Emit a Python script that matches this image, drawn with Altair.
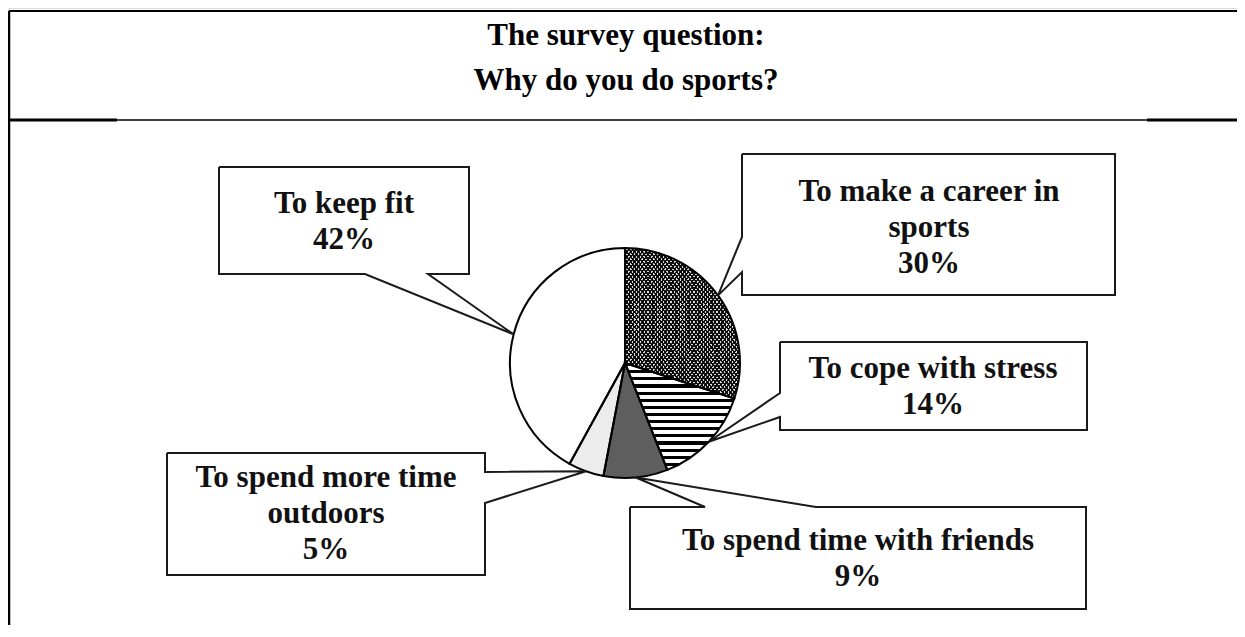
import math
import altair as alt
import pandas as pd

# ---------------- data ----------------
categories = ["To make a career in sports", "To cope with stress",
              "To spend time with friends", "To spend more time outdoors", "To keep fit"]
values = [30, 14, 9, 5, 42]
label_lines = [["To make a career in", "sports"], ["To cope with stress"],
               ["To spend time with friends"], ["To spend more time", "outdoors"], ["To keep fit"]]
title_lines = ["The survey question:", "Why do you do sports?"]

# ---------------- layout (reference pixel coordinates) ----------------
W, H = 1229, 617
OX, OY = 8, 8
CX, CY, R = 625, 363, 115
FONT = "Liberation Serif"
FS = 31
LINE_H = 36

callout_layout = {
    "To make a career in sports": dict(box=(742, 154, 1115, 295), side="left", base=(237, 272), tx=929, ty=201),
    "To cope with stress": dict(box=(780, 342, 1087, 430), side="left", base=(393, 417), tx=933, ty=378),
    "To spend time with friends": dict(box=(630, 507, 1086, 609), side="top", base=(705, 816), tx=858, ty=550),
    "To spend more time outdoors": dict(box=(167, 453, 485, 575), side="right", base=(472, 503), tx=326, ty=487),
    "To keep fit": dict(box=(219, 167, 469, 274), side="bottom", base=(365, 428), tx=344, ty=213),
}
fills = ["#d8d8d8", "#ffffff", "#5e5e5e", "#ececec", "#ffffff"]

# ---------------- derived tables ----------------
total = sum(values)
starts, ends, acc = [], [], 0
for v in values:
    starts.append(acc)
    acc += v
    ends.append(acc)
pie = pd.DataFrame({"category": categories, "value": values, "start": starts, "end": ends})

shape_rows = []
text_rows = []
for k, cat in enumerate(categories):
    lay = callout_layout[cat]
    mid = (starts[k] + ends[k]) / 2 / total * 2 * math.pi
    tip = (CX + R * math.sin(mid), CY - R * math.cos(mid))
    x0, y0, x1, y1 = lay["box"]
    a, b = lay["base"]
    side = lay["side"]
    if side == "left":
        pts = [(x0, y0), (x1, y0), (x1, y1), (x0, y1), (x0, b), tip, (x0, a), (x0, y0)]
    elif side == "right":
        pts = [(x0, y0), (x1, y0), (x1, a), tip, (x1, b), (x1, y1), (x0, y1), (x0, y0)]
    elif side == "top":
        pts = [(x0, y0), (a, y0), tip, (b, y0), (x1, y0), (x1, y1), (x0, y1), (x0, y0)]
    else:
        pts = [(x0, y0), (x1, y0), (x1, y1), (b, y1), tip, (a, y1), (x0, y1), (x0, y0)]
    for i, (px, py) in enumerate(pts):
        shape_rows.append({"shape": cat, "i": i, "x": px, "y": py})
    lines = label_lines[k] + [f"{values[k]}%"]
    for j, t in enumerate(lines):
        text_rows.append({"text": t, "x": lay["tx"], "y": lay["ty"] + j * LINE_H})

shapes = pd.DataFrame(shape_rows)
texts = pd.DataFrame(text_rows)
titles = pd.DataFrame({"text": title_lines, "x": [626, 626], "y": [45, 90]})
frame = pd.DataFrame({
    "x": [9, 9, 9, 117, 1147],
    "x2": [1245, 9, 117, 1147, 1245],
    "y": [11, 11, 120, 120, 120],
    "y2": [11, 637, 120, 120, 120],
    "w": [2, 2.5, 3, 1.5, 3],
})

xs = alt.Scale(domain=[OX, OX + W], nice=False, zero=False)
ys = alt.Scale(domain=[OY, OY + H], nice=False, zero=False, reverse=True)
ts = alt.Scale(domain=[0, total], range=[0, 2 * math.pi])


def stripe_grad(n, frac, color, bg, x1, y1, x2, y2):
    stops = []
    for i in range(n):
        a = i / n
        b = (i + frac) / n
        c = (i + 1) / n
        stops += [alt.GradientStop(offset=a, color=color), alt.GradientStop(offset=b, color=color),
                  alt.GradientStop(offset=b, color=bg), alt.GradientStop(offset=c, color=bg)]
    return alt.LinearGradient(gradient="linear", stops=stops, x1=x1, y1=y1, x2=x2, y2=y2)


arc_enc = dict(
    theta=alt.Theta("start:Q", scale=ts),
    theta2="end:Q",
    x=alt.value(CX - OX),
    y=alt.value(CY - OY),
)

base = alt.Chart(pie).mark_arc(radius=R).encode(
    fill=alt.Fill("category:N", scale=alt.Scale(domain=categories, range=fills), legend=None),
    **arc_enc,
)
stripes = alt.Chart(pie).transform_filter(alt.datum.category == categories[1]).mark_arc(
    radius=R, fill=stripe_grad(15, 0.45, "#000000", "#ffffff", 0, 0, 0, 1)
).encode(**arc_enc)
hatch1 = alt.Chart(pie).transform_filter(alt.datum.category == categories[0]).mark_arc(
    radius=R, fill=stripe_grad(60, 0.5, "rgba(0,0,0,0.9)", "rgba(0,0,0,0)", 0, 0, 1, 1)
).encode(**arc_enc)
hatch2 = alt.Chart(pie).transform_filter(alt.datum.category == categories[0]).mark_arc(
    radius=R, fill=stripe_grad(60, 0.5, "rgba(0,0,0,0.9)", "rgba(0,0,0,0)", 1, 0, 0, 1)
).encode(**arc_enc)
outline = alt.Chart(pie).mark_arc(radius=R, filled=False, color="#000000", strokeWidth=2).encode(**arc_enc)

callouts = alt.Chart(shapes).mark_line(color="#1a1a1a", strokeWidth=2, strokeJoin="miter").encode(
    x=alt.X("x:Q", scale=xs, axis=None),
    y=alt.Y("y:Q", scale=ys, axis=None),
    detail="shape:N",
    order="i:Q",
)
labels = alt.Chart(texts).mark_text(font=FONT, fontWeight="bold", fontSize=FS, align="center",
                                    baseline="alphabetic", color="#111111").encode(
    x=alt.X("x:Q", scale=xs, axis=None), y=alt.Y("y:Q", scale=ys, axis=None), text="text:N")
title = alt.Chart(titles).mark_text(font=FONT, fontWeight="bold", fontSize=FS, align="center",
                                    baseline="alphabetic", color="#000000").encode(
    x=alt.X("x:Q", scale=xs, axis=None), y=alt.Y("y:Q", scale=ys, axis=None), text="text:N")
rules = alt.Chart(frame).mark_rule(color="#000000").encode(
    x=alt.X("x:Q", scale=xs, axis=None), x2="x2:Q",
    y=alt.Y("y:Q", scale=ys, axis=None), y2="y2:Q",
    size=alt.Size("w:Q", scale=None, legend=None),
)

chart = alt.layer(rules, title, base, stripes, hatch1, hatch2, outline, callouts, labels).properties(
    width=W, height=H, padding=0, autosize=alt.AutoSizeParams(type="none"),
).configure_view(stroke=None).configure(background="#ffffff")

chart.save("out.html", embed_options={"renderer": "svg", "actions": False})
